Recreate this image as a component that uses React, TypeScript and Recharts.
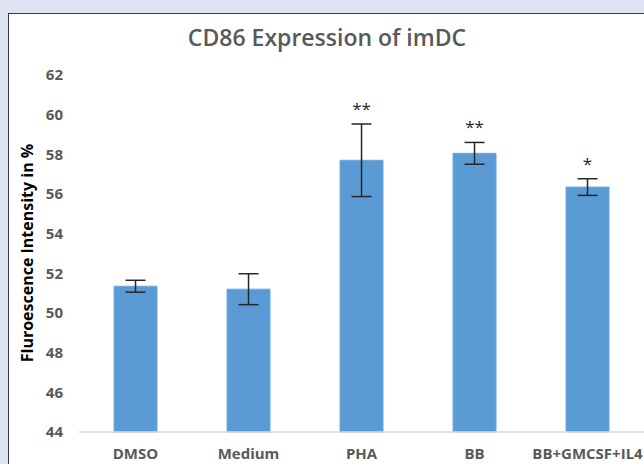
import React from 'react';
import { BarChart, Bar, XAxis, YAxis, ErrorBar, LabelList } from 'recharts';

const categories = ['DMSO', 'Medium', 'PHA', 'BB', 'BB+GMCSF+IL4'];
const meanValues = [51.35, 51.2, 57.7, 58.05, 56.35];
const errorValues = [0.3, 0.78, 1.83, 0.55, 0.42];
const significance = ['', '', '**', '**', '*'];
const yTicks = [44, 46, 48, 50, 52, 54, 56, 58, 60, 62];

const data = categories.map((name, i) => ({
  name,
  value: meanValues[i],
  err: errorValues[i],
  sig: significance[i],
}));

const Y_MIN = 44;

const StarLabel = (props: any) => {
  const { x, y, width, height, index } = props;
  const row = data[index];
  if (!row || !row.sig) return null;
  const pxPerUnit = height / (row.value - Y_MIN);
  const errTop = y - row.err * pxPerUnit;
  return (
    <text
      x={x + width / 2}
      y={errTop - 9}
      textAnchor="middle"
      fontSize={17}
      fontFamily="Open Sans"
      fill="#262626"
    >
      {row.sig}
    </text>
  );
};

const App: React.FC = () => {
  return (
    <div
      style={{
        position: 'absolute',
        left: 0,
        top: 0,
        width: 644,
        height: 464,
        background: '#dfe3f1',
        overflow: 'hidden',
      }}
    >
      <div
        style={{
          position: 'absolute',
          left: 8,
          top: 13,
          width: 660,
          height: 470,
          background: '#ffffff',
          borderLeft: '1.5px solid #3a3a3a',
          borderTop: '1.5px solid #3a3a3a',
        }}
      />
      <div
        style={{
          position: 'absolute',
          left: 0,
          top: 22,
          width: 654,
          textAlign: 'center',
          fontFamily: 'Open Sans',
          fontWeight: 600,
          fontSize: 23,
          color: '#595959',
          lineHeight: '30px',
        }}
      >
        CD86 Expression of imDC
      </div>
      <div style={{ position: 'absolute', left: 0, top: 0 }}>
        <BarChart
          width={644}
          height={464}
          data={data}
          margin={{ top: 75, right: 0, bottom: 0, left: 0 }}
          barCategoryGap="31%"
        >
          <XAxis
            dataKey="name"
            height={32}
            axisLine={{ stroke: '#d9d9d9', strokeWidth: 1.5 }}
            tickLine={false}
            tick={{ fill: '#595959', fontSize: 15, fontWeight: 700, fontFamily: 'Open Sans' }}
            tickMargin={10}
            interval={0}
          />
          <YAxis
            domain={[44, 62]}
            ticks={yTicks}
            width={79}
            axisLine={false}
            tickLine={false}
            tickSize={0}
            tickMargin={16}
            tick={{ fill: '#595959', fontSize: 15, fontWeight: 700, fontFamily: 'Open Sans' }}
            label={{
              content: () => (
                <text
                  x={27}
                  y={253}
                  transform="rotate(-90 27 253)"
                  textAnchor="middle"
                  dominantBaseline="central"
                  fontSize={16}
                  fontWeight={700}
                  fontFamily="Open Sans"
                  fill="#000000"
                >
                  Fluroescence Intensity in %
                </text>
              ),
            }}
          />
          <Bar dataKey="value" fill="#5b9bd5" stroke="#6ea7db" strokeWidth={1} isAnimationActive={false}>
            <ErrorBar dataKey="err" width={10} stroke="#262626" strokeWidth={1.5} />
            <LabelList dataKey="sig" content={StarLabel} />
          </Bar>
        </BarChart>
      </div>
    </div>
  );
};

export default App;
